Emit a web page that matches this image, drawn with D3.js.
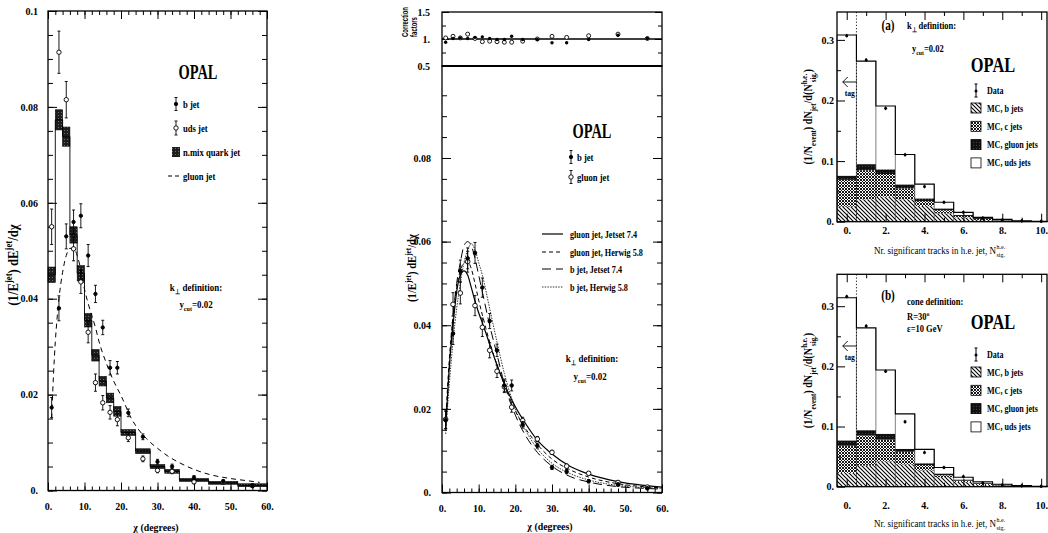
<!DOCTYPE html>
<html><head><meta charset="utf-8">
<script src="https://cdn.jsdelivr.net/npm/d3@7"></script>
<style>
body{margin:0;background:#fff;}
svg{display:block;}
</style></head><body>
<svg id="c" width="1048" height="533"></svg>
<script>
// ---------------- DATA ----------------
const chiPts   = [1,3,5,7,9,11,13,15,17,19,22,26,30,34,40,48,56];
const bJetVal  = [0.0173,0.038,0.053,0.056,0.0573,0.049,0.041,0.034,0.0256,0.0256,0.0162,0.0112,0.006,0.005,0.0027,0.0019,0.001];
const bJetErr  = [0.0021,0.0026,0.0026,0.0025,0.0025,0.0023,0.0018,0.0015,0.0015,0.0013,0.0008,0.0006,0.0005,0.0005,0.0004,0.0004,0.0003];
const udsVal   = [0.055,0.0914,0.0815,0.0504,0.0435,0.033,0.0225,0.0183,0.0163,0.0148,0.011,0.0066,0.0042,0.004,0.0018,0.0017,0.001];
const udsErr   = [0.0037,0.0044,0.0038,0.0025,0.0024,0.0022,0.0018,0.0015,0.0014,0.0013,0.0008,0.0006,0.0005,0.0005,0.0004,0.0004,0.0003];
const binEdges = [0,2,4,6,8,10,12,14,16,18,20,24,28,32,36,44,52,60];
const nmixVal  = [0.045,0.0773,0.0738,0.0533,0.0453,0.0355,0.0282,0.0228,0.0193,0.0165,0.0121,0.0082,0.005,0.004,0.0022,0.0016,0.0011];
const nmixErr  = [0.0016,0.0021,0.002,0.0017,0.0016,0.0014,0.0012,0.001,0.001,0.001,0.0006,0.0005,0.0004,0.0004,0.0003,0.0003,0.0003];
const chiGluonL = [1,1.5,2,2.5,3,4,5,6,7,8,9,10,11,12,13,14,16,18,20,23,27,30,33,36,40,45,50,55,58];
const gluonL    = [0.015,0.024,0.031,0.036,0.040,0.0455,0.049,0.0505,0.0505,0.049,0.046,0.042,0.039,0.0365,0.034,0.031,0.0265,0.0228,0.0198,0.0148,0.0108,0.0088,0.0071,0.0058,0.0044,0.0032,0.0025,0.002,0.0017];
const gluonVal = [0.0175,0.045,0.0477,0.0552,0.0447,0.0395,0.034,0.029,0.0253,0.0204,0.0172,0.0128,0.0096,0.0063,0.0046,0.0024,0.0013];
const gluonErr = [0.0022,0.0028,0.0026,0.0025,0.0024,0.0022,0.0018,0.0015,0.0014,0.0012,0.0008,0.0006,0.0005,0.0005,0.0004,0.0004,0.0003];
const cfB = [0.94,1.01,1.02,1.01,1.03,1.04,1.01,0.99,0.99,1.05,0.99,0.99,0.93,0.93,0.99,1.07,1.01];
const cfG = [1.02,1.05,1.02,1.09,1.01,0.95,0.96,0.95,0.94,0.94,0.96,1.0,1.05,1.03,1.06,1.09,1.01];
const chiCurve     = [1,2,3,4,5,6,7,8,9,10,11,13,15,17,20,23,26,30,35,40,48,55,60];
const gluonJetset  = [0.015,0.03,0.04,0.048,0.052,0.053,0.052,0.049,0.0458,0.043,0.0406,0.0355,0.0305,0.026,0.0205,0.0162,0.0125,0.0092,0.0062,0.0044,0.0026,0.0017,0.0013];
const gluonHerwig  = [0.017,0.032,0.042,0.049,0.053,0.055,0.0552,0.0535,0.05,0.046,0.0425,0.036,0.0305,0.0258,0.0195,0.015,0.0115,0.008,0.0054,0.0037,0.0021,0.0014,0.0011];
const bJetset      = [0.016,0.03,0.042,0.05,0.055,0.059,0.060,0.059,0.056,0.052,0.048,0.040,0.033,0.026,0.0185,0.0133,0.0096,0.0063,0.0038,0.0025,0.0014,0.001,0.0008];
const bHerwig      = [0.014,0.026,0.036,0.044,0.050,0.055,0.058,0.0595,0.058,0.055,0.052,0.044,0.036,0.0285,0.020,0.0145,0.0105,0.007,0.0045,0.003,0.0017,0.0012,0.001];
const nSig = [0,1,2,3,4,5,6,7,8,9,10];
const aB   = [0.0248,0.037,0.0413,0.037,0.026,0.0138,0.0072,0.0028,0.0015,0.0007,0.0003];
const aC   = [0.0442,0.048,0.0374,0.018,0.008,0.0052,0.0022,0.0016,0.0005,0.0003,0.0002];
const aG   = [0.007,0.010,0.0077,0.0066,0.0045,0.003,0.0016,0.0016,0.0013,0.0004,0.0002];
const aUds = [0.232,0.170,0.1046,0.0494,0.0235,0.010,0.0044,0.0012,0.0005,0.0002,0.0001];
const aData= [0.307,0.267,0.187,0.1106,0.058,0.032,0.0154,0.006,0.003,0.0015,0.0008];
const bB   = [0.023,0.035,0.042,0.037,0.027,0.016,0.008,0.003,0.0015,0.0006,0.0003];
const bC   = [0.045,0.050,0.036,0.021,0.009,0.003,0.002,0.002,0.0007,0.0004,0.0002];
const bG   = [0.009,0.009,0.010,0.005,0.003,0.003,0.002,0.002,0.0013,0.0005,0.0002];
const bUds = [0.237,0.170,0.106,0.058,0.023,0.010,0.0036,0.0013,0.0005,0.0003,0.0001];
const bData= [0.316,0.267,0.192,0.108,0.057,0.032,0.017,0.006,0.003,0.0015,0.0008];

const yTicksL = [0,0.02,0.04,0.06,0.08,0.1];
const yTicksM = [0,0.02,0.04,0.06,0.08];
const xTicksChi = [0,10,20,30,40,50,60];
const yTicksC = [0.5,1,1.5];
const yTicksR = [0,0.1,0.2,0.3];
const xTicksR = [0,2,4,6,8,10];

// ---------------- DRAW ----------------
const FONT = "'Liberation Serif','Times New Roman',serif";
const svg = d3.select("#c").attr("font-family", FONT);
const defs = svg.append("defs");
function pat(id, w, h, bg, draw){
  const p = defs.append("pattern").attr("id",id).attr("patternUnits","userSpaceOnUse").attr("width",w).attr("height",h);
  p.append("rect").attr("width",w).attr("height",h).attr("fill",bg);
  draw(p);
}
pat("hB",4,4,"#fff",p=>p.append("path").attr("d","M-1,-1L5,5M-1,3L1,5M3,-1L5,1").attr("stroke","#000").attr("stroke-width",1.1));
pat("hC",3,3,"#fff",p=>p.append("path").attr("d","M0,0L3,3M3,0L0,3").attr("stroke","#000").attr("stroke-width",0.9));
pat("hG",3,3,"#111",p=>p.append("circle").attr("cx",1.5).attr("cy",1.5).attr("r",0.45).attr("fill","#777"));
pat("hN",3,3,"#1e1e1e",p=>p.append("circle").attr("cx",1.5).attr("cy",1.5).attr("r",0.5).attr("fill","#888"));

function addAxis(g, kind, scale, tx, ty, values, size, fmt, pad){
  const ax = kind(scale).tickValues(values).tickSize(-size).tickPadding(pad||3).tickFormat(fmt || (()=>""));
  const s = g.append("g").attr("transform",`translate(${tx},${ty})`).call(ax)
    .attr("font-family",FONT).attr("font-size",10).attr("font-weight","bold");
  s.select(".domain").remove();
  s.selectAll("line").attr("stroke","#000").attr("stroke-width",1);
  s.selectAll("text").attr("fill","#000");
  return s;
}
function rich(g, x, y, size, parts, o){
  o = o||{};
  const t = g.append("text").attr("transform",`translate(${x},${y}) rotate(${o.rot||0}) scale(${o.sx||1},1)`)
    .attr("font-size",size).attr("font-weight",o.bold===false?"normal":"bold").attr("text-anchor",o.anchor||"start").attr("fill","#000");
  let shift=0;
  parts.forEach(p=>{
    const s = typeof p==="string"?[p,""]:p;
    const target = s[1]==="sup"? -size*0.42 : s[1]==="sub"? size*0.3 : 0;
    const ts = t.append("tspan").text(s[0]).attr("dy",target-shift);
    if(s[1]) ts.attr("font-size",size*0.68);
    if(s[2]) ts.attr("dx",s[2]);
    shift=target;
  });
  return t;
}
const fmtV = v => v===0?"0.":String(+v.toFixed(3));
const fmtX = v => v+".";
const fmtC = v => Number.isInteger(v)? v+"." : String(v);

function frame(g,x,y,sw){
  const [x0,x1]=x.range(),[y0,y1]=y.range();
  g.append("rect").attr("x",x0).attr("y",y1).attr("width",x1-x0).attr("height",y0-y1)
    .attr("fill","none").attr("stroke","#000").attr("stroke-width",sw||1.3);
}
function errPts(g, x, y, xs, vs, es, open, r, cap){
  const grp = g.append("g");
  xs.forEach((c,i)=>{
    grp.append("line").attr("x1",x(c)).attr("x2",x(c)).attr("y1",y(vs[i]-es[i])).attr("y2",y(vs[i]+es[i])).attr("stroke","#000").attr("stroke-width",0.9);
    [vs[i]-es[i],vs[i]+es[i]].forEach(v=>grp.append("line").attr("x1",x(c)-cap).attr("x2",x(c)+cap).attr("y1",y(v)).attr("y2",y(v)).attr("stroke","#000").attr("stroke-width",0.9));
    grp.append("circle").attr("cx",x(c)).attr("cy",y(vs[i])).attr("r",r)
      .attr("fill",open?"#fff":"#000").attr("stroke","#000").attr("stroke-width",0.9);
  });
}

// ===== LEFT PANEL =====
{
  const g = svg.append("g");
  const x = d3.scaleLinear([0,60],[48,267]);
  const y = d3.scaleLinear([0,0.1],[490.5,11]);
  addAxis(g,d3.axisLeft,y,48,0,d3.range(0,21).map(i=>i*0.005),5);
  addAxis(g,d3.axisLeft,y,48,0,yTicksL,9,fmtV,10);
  addAxis(g,d3.axisRight,y,267,0,d3.range(0,21).map(i=>i*0.005),5);
  addAxis(g,d3.axisRight,y,267,0,yTicksL,9);
  addAxis(g,d3.axisBottom,x,0,490.5,d3.range(0,61,2),4);
  addAxis(g,d3.axisBottom,x,0,490.5,xTicksChi,8,fmtX,12);
  addAxis(g,d3.axisTop,x,0,11,d3.range(0,61,2),4);
  addAxis(g,d3.axisTop,x,0,11,xTicksChi,8);
  g.selectAll("rect.nb").data(nmixVal).join("rect")
    .attr("x",(d,i)=>x(binEdges[i])).attr("width",(d,i)=>x(binEdges[i+1])-x(binEdges[i]))
    .attr("y",(d,i)=>y(d+nmixErr[i])).attr("height",(d,i)=>y(d-nmixErr[i])-y(d+nmixErr[i]))
    .attr("fill","url(#hN)").attr("stroke","#000").attr("stroke-width",0.6);
  const stepPts = nmixVal.map((v,i)=>[binEdges[i],v]).concat([[60,nmixVal[nmixVal.length-1]]]);
  g.append("path").attr("d",d3.line().x(d=>x(d[0])).y(d=>y(d[1])).curve(d3.curveStepAfter)(stepPts))
    .attr("fill","none").attr("stroke","#000").attr("stroke-width",0.9);
  g.append("path").attr("d",d3.line().x((d,i)=>x(chiGluonL[i])).y(d=>y(d)).curve(d3.curveMonotoneX)(gluonL))
    .attr("fill","none").attr("stroke","#000").attr("stroke-width",1).attr("stroke-dasharray","5,4");
  errPts(g,x,y,chiPts,udsVal,udsErr,true,2.2,1.5);
  errPts(g,x,y,chiPts,bJetVal,bJetErr,false,1.7,1.5);
  frame(g,x,y,1.3);
  rich(g,198,79,20,["OPAL"],{anchor:"middle",sx:0.72});
  errPts(g,d3.scaleLinear(),d3.scaleLinear(),[176],[104],[6.5],false,1.7,1.5);
  errPts(g,d3.scaleLinear(),d3.scaleLinear(),[176],[128],[7],true,2.2,1.5);
  g.append("rect").attr("x",172).attr("y",147).attr("width",8).attr("height",10).attr("fill","url(#hN)");
  g.append("line").attr("x1",168).attr("x2",181).attr("y1",176).attr("y2",176).attr("stroke","#000").attr("stroke-dasharray","4,3");
  rich(g,183,108,10.5,["b jet"],{sx:0.82});
  rich(g,183,132,10.5,["uds jet"],{sx:0.82});
  rich(g,183,156,10.5,["n.mix quark jet"],{sx:0.82});
  rich(g,183,180,10.5,["gluon jet"],{sx:0.82});
  rich(g,196,291,10.5,[["k"],["\u22a5","sub"]," definition:"],{anchor:"middle",sx:0.85});
  rich(g,196,308,10.5,["y",["cut","sub"],"=0.02"],{anchor:"middle",sx:0.85});
  rich(g,156,531,11,["\u03c7 (degrees)"],{anchor:"middle",sx:0.9});
  rich(g,18,265,15,["(1/E",["jet","sup"],") dE",["jet","sup"],"/d\u03c7"],{anchor:"middle",rot:-90,sx:0.85});
}

// ===== MIDDLE PANEL =====
{
  const g = svg.append("g");
  const x = d3.scaleLinear([0,60],[442,662]);
  const y = d3.scaleLinear([0,0.102],[492.5,66]);
  const yc = d3.scaleLinear([0.5,1.5],[66,12]);
  const minorM = d3.range(0,20).map(i=>i*0.005);
  addAxis(g,d3.axisLeft,y,442,0,minorM,5);
  addAxis(g,d3.axisLeft,y,442,0,yTicksM,9,fmtV,11);
  addAxis(g,d3.axisRight,y,662,0,minorM,5);
  addAxis(g,d3.axisRight,y,662,0,yTicksM,9);
  addAxis(g,d3.axisBottom,x,0,492.5,d3.range(0,61,2),4);
  addAxis(g,d3.axisBottom,x,0,492.5,xTicksChi,8,fmtX,12);
  addAxis(g,d3.axisLeft,yc,442,0,[0.75,1.25],4);
  addAxis(g,d3.axisLeft,yc,442,0,yTicksC,7,fmtC,12);
  addAxis(g,d3.axisRight,yc,662,0,[0.75,1.25],4);
  addAxis(g,d3.axisRight,yc,662,0,yTicksC,7);
  frame(g,x,y,1.3);
  frame(g,x,yc,1.3);
  g.append("line").attr("x1",442).attr("x2",662).attr("y1",yc(1)).attr("y2",yc(1)).attr("stroke","#000").attr("stroke-width",1.3);
  g.append("line").attr("x1",442).attr("x2",662).attr("y1",yc(0.5)).attr("y2",yc(0.5)).attr("stroke","#000").attr("stroke-width",2.2);
  chiPts.forEach((c,i)=>{
    g.append("circle").attr("cx",x(c)).attr("cy",yc(cfG[i])).attr("r",2).attr("fill","#fff").attr("stroke","#000").attr("stroke-width",0.9);
    g.append("circle").attr("cx",x(c)).attr("cy",yc(cfB[i])).attr("r",1.7).attr("fill","#000");
  });
  const styles = [[gluonJetset,null,1.2],[gluonHerwig,"4,3",1],[bJetset,"9,5",1],[bHerwig,"1.5,1.2",0.8]];
  styles.forEach(s=>{
    const p = g.append("path").attr("d",d3.line().x((d,i)=>x(chiCurve[i])).y(d=>y(d)).curve(d3.curveMonotoneX)(s[0]))
      .attr("fill","none").attr("stroke","#000").attr("stroke-width",s[2]);
    if(s[1]) p.attr("stroke-dasharray",s[1]);
  });
  errPts(g,x,y,chiPts,gluonVal,gluonErr,true,2.3,1.5);
  errPts(g,x,y,chiPts,bJetVal,bJetErr,false,1.8,1.5);
  rich(g,592,138,20,["OPAL"],{anchor:"middle",sx:0.72});
  errPts(g,d3.scaleLinear(),d3.scaleLinear(),[571],[157],[6.5],false,1.7,1.5);
  errPts(g,d3.scaleLinear(),d3.scaleLinear(),[571],[177],[6.5],true,2.2,1.5);
  rich(g,577,161,10.5,["b jet"],{sx:0.82});
  rich(g,577,181,10.5,["gluon jet"],{sx:0.82});
  const legY=[234,252,269,287];
  const legT=["gluon jet, Jetset 7.4","gluon jet, Herwig 5.8","b jet, Jetset 7.4","b jet, Herwig 5.8"];
  styles.forEach((s,i)=>{
    const l = g.append("line").attr("x1",542).attr("x2",563).attr("y1",legY[i]).attr("y2",legY[i]).attr("stroke","#000").attr("stroke-width",s[2]);
    if(s[1]) l.attr("stroke-dasharray",s[1]);
    rich(g,570,legY[i]+3.5,10,[legT[i]],{sx:0.82});
  });
  rich(g,592,362,10.5,[["k"],["\u22a5","sub"]," definition:"],{anchor:"middle",sx:0.85});
  rich(g,590,380,10.5,["y",["cut","sub"],"=0.02"],{anchor:"middle",sx:0.85});
  rich(g,550,530,11,["\u03c7 (degrees)"],{anchor:"middle",sx:0.9});
  rich(g,416,268,12.5,["(1/E",["jet","sup"],") dE",["jet","sup"],"/d\u03c7"],{anchor:"middle",rot:-90,sx:0.85});
  rich(g,408,22,9,["Correction"],{rot:-90,sx:0.66,anchor:"middle"}).attr("font-family","'Liberation Sans',Arial,sans-serif");
  rich(g,417,27,9,["factors"],{rot:-90,sx:0.66,anchor:"middle"}).attr("font-family","'Liberation Sans',Arial,sans-serif");
}

// ===== RIGHT PANELS =====
function rightPanel(yr, comps, data, labelFn, top, labPad, titleOff){
  const g = svg.append("g");
  const x = d3.scaleLinear([-0.5,10.3],[837,1047]);
  const y = d3.scaleLinear([0,yr[0]],[yr[1],yr[2]]);
  const keys=["b","c","g","uds"];
  const table = nSig.map((n,i)=>({n,b:comps[0][i],c:comps[1][i],g:comps[2][i],uds:comps[3][i]}));
  const stack = d3.stack().keys(keys)(table);
  const fills = {b:"url(#hB)",c:"url(#hC)",g:"url(#hG)",uds:"#fff"};
  stack.forEach(layer=>{
    g.selectAll(null).data(layer).join("rect")
      .attr("x",d=>x(d.data.n-0.5)).attr("width",x(1)-x(0))
      .attr("y",d=>y(d[1])).attr("height",d=>Math.max(0,y(d[0])-y(d[1])))
      .attr("fill",fills[layer.key]);
  });
  const tot = table.map(d=>d.b+d.c+d.g+d.uds);
  const stepT = nSig.map((n,i)=>[n-0.5,tot[i]]).concat([[10.5,tot[10]]]);
  g.append("path").attr("d",d3.line().x(d=>x(d[0])).y(d=>y(d[1])).curve(d3.curveStepAfter)(stepT))
    .attr("fill","none").attr("stroke","#000").attr("stroke-width",1.1);
  nSig.forEach((n,i)=>{
    g.append("line").attr("x1",x(n-0.5)).attr("x2",x(n-0.5)).attr("y1",y(0)).attr("y2",y(Math.max(tot[i], i>0?tot[i-1]:0))).attr("stroke","#000").attr("stroke-width",0.5);
  });
  g.append("line").attr("x1",x(0.5)).attr("x2",x(0.5)).attr("y1",y.range()[1]).attr("y2",y(0)).attr("stroke","#000").attr("stroke-width",0.9).attr("stroke-dasharray","1.2,2");
  nSig.forEach((n,i)=>{
    g.append("line").attr("x1",x(n)).attr("x2",x(n)).attr("y1",y(data[i])-1.8).attr("y2",y(data[i])+1.8).attr("stroke","#000");
    g.append("circle").attr("cx",x(n)).attr("cy",y(data[i])).attr("r",1.5).attr("fill","#000");
  });
  const yMinor=[0.05,0.15,0.25];
  addAxis(g,d3.axisLeft,y,837,0,yMinor,4);
  addAxis(g,d3.axisLeft,y,837,0,yTicksR,8,fmtV,3);
  addAxis(g,d3.axisBottom,x,0,yr[1],[1,3,5,7,9],4);
  addAxis(g,d3.axisBottom,x,0,yr[1],xTicksR,8,fmtX,labPad);
  addAxis(g,d3.axisTop,x,0,yr[2],[1,3,5,7,9],4);
  addAxis(g,d3.axisTop,x,0,yr[2],xTicksR,8);
  frame(g,x,y,1.3);
  const ay = top+70;
  g.append("path").attr("d",`M${x(0)-4},${ay}L${x(0)+10},${ay}M${x(0)+1},${ay-5}L${x(0)-4},${ay}L${x(0)+1},${ay+5}`).attr("fill","none").attr("stroke","#000").attr("stroke-width",0.9);
  rich(g,x(0)+3,ay+14,9,["tag"],{anchor:"middle",sx:0.85});
  const cy=(yr[1]+yr[2])/2;
  rich(g,812,cy,12,["(1/N",["event","sub"],") dN",["jet","sub"],"/d(N",["h.e.","sup"],["sig.","sub",-10],")"],{anchor:"middle",rot:-90,sx:0.85});
  const ty = yr[1]+titleOff;
  const t = rich(g,935,ty,11,["Nr. significant tracks in h.e. jet, N"],{anchor:"middle",sx:0.82,bold:false});
  const endX = 935 + t.node().getComputedTextLength()*0.82/2;
  rich(g,endX+0.5,ty-5,7,["h.e."],{sx:0.85,bold:false});
  rich(g,endX+0.5,ty+3,7,["sig."],{sx:0.85,bold:false});
  labelFn(g);
  const lx=971, ly=top+78;
  g.append("line").attr("x1",lx+5).attr("x2",lx+5).attr("y1",ly-6).attr("y2",ly+7).attr("stroke","#000");
  [ly-6,ly+7].forEach(v=>g.append("line").attr("x1",lx+3.5).attr("x2",lx+6.5).attr("y1",v).attr("y2",v).attr("stroke","#000"));
  g.append("circle").attr("cx",lx+5).attr("cy",ly+1).attr("r",1.5).attr("fill","#000");
  rich(g,lx+16,ly+4,9.5,["Data"],{sx:0.85});
  const names=["MC, b jets","MC, c jets","MC, gluon jets","MC, uds jets"];
  keys.forEach((k,i)=>{
    const yy = ly+13+i*18.3;
    g.append("rect").attr("x",lx).attr("y",yy).attr("width",10).attr("height",10).attr("fill",fills[k]).attr("stroke","#000").attr("stroke-width",0.8);
    rich(g,lx+16,yy+8.5,9.5,[names[i]],{sx:0.85});
  });
}
rightPanel([0.346,221.7,12],[aB,aC,aG,aUds],aData,g=>{
  rich(g,888,30,14,["(a)"],{anchor:"middle",sx:0.8});
  rich(g,907,29,10,["k",["\u22a5","sub"]," definition:"],{sx:0.85});
  rich(g,912,52,10,["y",["cut","sub"],"=0.02"],{sx:0.85});
  rich(g,993,72,20,["OPAL"],{anchor:"middle",sx:0.82});
},12,5,32);
rightPanel([0.353,486.7,274.3],[bB,bC,bG,bUds],bData,g=>{
  rich(g,888,300,14,["(b)"],{anchor:"middle",sx:0.8});
  rich(g,907,305,10,["cone definition:"],{sx:0.85});
  rich(g,907,320,10,["R=30",["o","sup"]],{sx:0.85});
  rich(g,907,332,10,["\u03b5=10 GeV"],{sx:0.85});
  rich(g,993,329,20,["OPAL"],{anchor:"middle",sx:0.82});
},276,15,40);
</script>
</body></html>
